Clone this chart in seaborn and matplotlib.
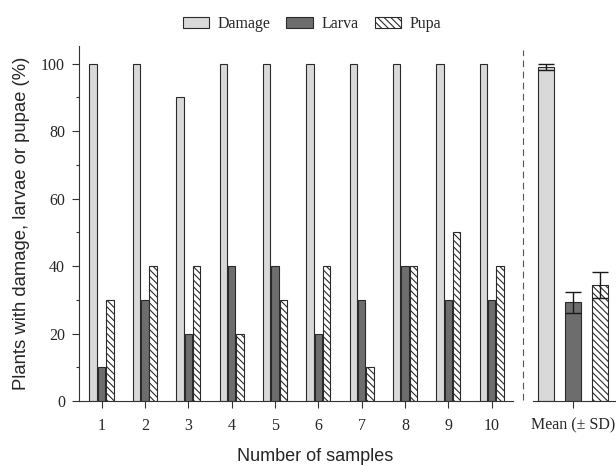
import matplotlib
matplotlib.use("Agg")
import matplotlib.pyplot as plt
from matplotlib.lines import Line2D
import seaborn as sns
import pandas as pd

samples = ["1", "2", "3", "4", "5", "6", "7", "8", "9", "10"]
damage = [100, 100, 90, 100, 100, 100, 100, 100, 100, 100]
larva = [10, 30, 20, 40, 40, 20, 30, 40, 30, 30]
pupa = [30, 40, 40, 20, 30, 40, 10, 40, 50, 40]
series = ["Damage", "Larva", "Pupa"]
mean_vals = [99.0, 29.2, 34.3]
mean_err = [1.0, 3.0, 3.8]
mean_label = "Mean (± SD)"

colors = {"Damage": "#d9d9d9", "Larva": "#6d6d6d", "Pupa": "#ffffff"}
edge = "#2a2a2a"

sns.set_theme(style="ticks")
plt.rcParams["font.family"] = ["Liberation Serif", "DejaVu Serif"]
plt.rcParams["hatch.color"] = edge
plt.rcParams["hatch.linewidth"] = 0.8

df = pd.DataFrame({
    "sample": samples * 3,
    "type": ["Damage"] * 10 + ["Larva"] * 10 + ["Pupa"] * 10,
    "value": damage + larva + pupa,
})

W, H = 616, 465
fig = plt.figure(figsize=(W / 100, H / 100), dpi=100)
ax = fig.add_axes([79 / W, 1 - 401 / H, (513 - 79) / W, (401 - 46) / H])
ax2 = fig.add_axes([533 / W, 1 - 401 / H, (616 - 533) / W, (401 - 46) / H])

sns.barplot(data=df, x="sample", y="value", hue="type", hue_order=series,
            palette=colors, width=0.575, gap=0.1, edgecolor=edge,
            linewidth=0.8, ax=ax, legend=False, errorbar=None)
for p in ax.containers[2].patches:
    p.set_hatch("\\\\\\\\\\")

ax.set_xlim(-0.52, 9.49)
ax.set_ylim(0, 105.2)
ax.set_yticks([0, 20, 40, 60, 80, 100])
ax.set_yticks([10, 30, 50, 70, 90], minor=True)
ax.tick_params(axis="both", which="major", length=5, width=0.8, labelsize=11.5,
               color="#333333", pad=5)
ax.tick_params(axis="y", which="minor", length=2.5, width=0.8, color="#333333", left=True)
ax.tick_params(axis="x", pad=7)
for s in ["top", "right"]:
    ax.spines[s].set_visible(False)
for s in ["left", "bottom"]:
    ax.spines[s].set_linewidth(0.8)
    ax.spines[s].set_color("#333333")
ax.set_xlabel("")
ax.set_ylabel("Plants with damage, larvae or pupae (%)", family=["Liberation Sans", "DejaVu Sans"],
              fontsize=13.3, labelpad=8)

mdf = pd.DataFrame({"type": series, "value": mean_vals})
sns.barplot(data=mdf, x="type", y="value", hue="type", hue_order=series, palette=colors,
            width=0.62, edgecolor=edge, linewidth=0.8, ax=ax2, legend=False,
            errorbar=None, dodge=False)
ax2.containers[2].patches[0].set_hatch("\\\\\\\\\\")
ax2.errorbar(range(len(series)), mean_vals, yerr=mean_err, fmt="none", ecolor="#1a1a1a",
             elinewidth=1.0, capsize=5.5, capthick=1.0)
ax2.set_xlim(-0.49, 2.6)
ax2.set_ylim(0, 105.2)
ax2.set_xticks([1])
ax2.set_xticklabels([mean_label])
ax2.set_yticks([])
ax2.tick_params(axis="x", length=5, width=0.8, labelsize=11.5, color="#333333", pad=7)
for s in ["top", "right", "left"]:
    ax2.spines[s].set_visible(False)
ax2.spines["bottom"].set_linewidth(0.8)
ax2.spines["bottom"].set_color("#333333")
ax2.set_xlabel("")
ax2.set_ylabel("")

fig.add_artist(Line2D([523 / W, 523 / W], [1 - 400 / H, 1 - 50 / H], transform=fig.transFigure,
                      color="#555555", linestyle=(0, (6, 4)), linewidth=0.8))

fig.text(315 / W, 1 - 456 / H, "Number of samples", ha="center", va="center",
         family=["Liberation Sans", "DejaVu Sans"], fontsize=13)

handles = [ax.containers[i] for i in range(3)]
fig.legend(handles=handles, labels=series, loc="center", bbox_to_anchor=(312 / W, 1 - 24 / H),
           ncol=3, frameon=False, fontsize=11.5, handlelength=1.65, handleheight=0.65,
           handletextpad=0.55, columnspacing=1.0, borderaxespad=0)

fig.savefig("out.png", dpi=100)
